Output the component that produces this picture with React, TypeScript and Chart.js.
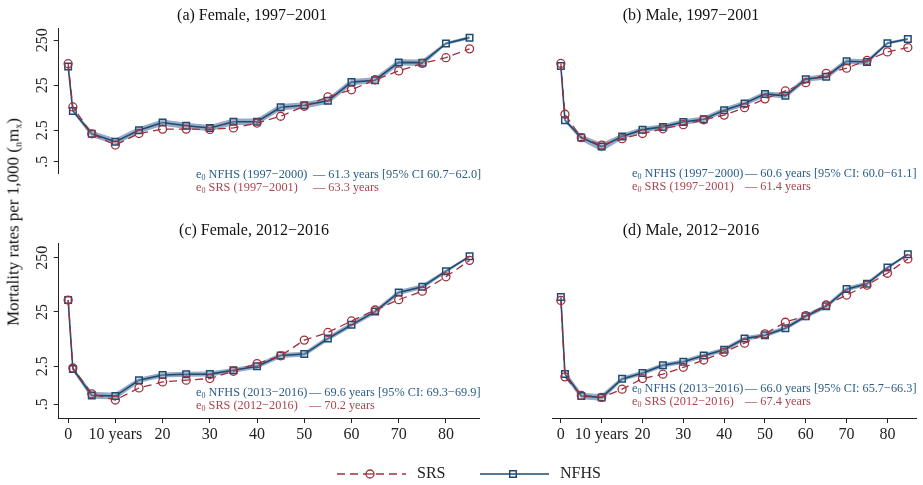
import React, { useEffect, useRef } from "react";
import { Chart, registerables } from "chart.js";

Chart.register(...registerables);

// ---------------- DATA ----------------
const AGES = [0, 1, 5, 10, 15, 20, 25, 30, 35, 40, 45, 50, 55, 60, 65, 70, 75, 80, 85];
const X_TICKS = [0, 10, 20, 30, 40, 50, 60, 70, 80];
const Y_TICKS = [0.5, 2.5, 25, 250];
const Y_TICK_LABELS = [".5", "2.5", "25", "250"];

// (a) Female, 1997-2001
const A_NFHS = [65, 6.7, 2.08, 1.39, 2.5, 3.7, 3.13, 2.8, 3.86, 3.86, 8.1, 8.97, 11.2, 29.2, 32.2, 80, 79, 211, 284];
const A_NFHS_LO = [60, 6.2, 1.77, 1.18, 2.13, 3.15, 2.66, 2.38, 3.28, 3.28, 6.9, 7.6, 9.5, 24.8, 27.4, 68, 67, 194, 261];
const A_NFHS_HI = [70, 7.2, 2.43, 1.63, 2.93, 4.33, 3.66, 3.28, 4.52, 4.52, 9.5, 10.5, 13.1, 34.2, 37.7, 93.6, 92.4, 228, 307];
const A_SRS = [75, 8.2, 2.08, 1.17, 2.11, 2.64, 2.64, 2.6, 2.8, 3.6, 5.1, 8.5, 13.7, 19.7, 33, 51.9, 75.9, 102, 160];

// (b) Male, 1997-2001
const B_NFHS = [66.8, 4.15, 1.71, 1.08, 1.81, 2.57, 2.96, 3.81, 4.39, 6.97, 9.75, 16, 14.5, 34, 38.6, 84.8, 82, 214, 264];
const B_NFHS_LO = [62, 3.8, 1.45, 0.84, 1.57, 2.24, 2.58, 3.31, 3.82, 6.06, 8.5, 13.9, 12.6, 29.6, 33.6, 73.8, 71.3, 199, 246];
const B_NFHS_HI = [71.5, 4.5, 1.97, 1.3, 2.08, 2.96, 3.4, 4.38, 5.05, 8.0, 11.2, 18.4, 16.7, 39.1, 44.4, 97.5, 94.3, 229, 282];
const B_SRS = [75.9, 5.65, 1.71, 1.17, 1.62, 2.11, 2.68, 3.31, 4.26, 5.41, 7.9, 12.4, 18.6, 28.4, 45.7, 59.7, 88.5, 137, 171];

// (c) Female, 2012-2016
const C_NFHS = [41.5, 2.23, 0.73, 0.71, 1.39, 1.73, 1.79, 1.8, 2.11, 2.5, 3.97, 4.2, 8.1, 14.5, 25.4, 57.3, 72.7, 141, 264];
const C_NFHS_LO = [39, 2.03, 0.63, 0.61, 1.25, 1.56, 1.61, 1.62, 1.9, 2.25, 3.57, 3.78, 7.3, 13.05, 22.9, 51.6, 65.4, 131, 250];
const C_NFHS_HI = [44, 2.45, 0.85, 0.82, 1.54, 1.92, 1.99, 2.0, 2.34, 2.78, 4.4, 4.66, 9.0, 16.1, 28.2, 63.6, 80.7, 152, 278];
const C_SRS = [41.5, 2.33, 0.78, 0.6, 1.0, 1.29, 1.39, 1.49, 2.03, 2.8, 3.9, 7.6, 10.5, 17.1, 27.2, 42.1, 60.5, 111, 223];

// (d) Male, 2012-2016
const D_NFHS = [47, 1.81, 0.71, 0.67, 1.47, 1.89, 2.61, 3.04, 3.97, 5.05, 8.1, 9.35, 12.6, 20.8, 31.8, 65.9, 82.5, 164, 288];
const D_NFHS_LO = [44.5, 1.57, 0.62, 0.58, 1.34, 1.72, 2.38, 2.77, 3.61, 4.6, 7.37, 8.5, 11.5, 18.9, 28.9, 60, 75, 152, 274];
const D_NFHS_HI = [49.5, 2.08, 0.82, 0.77, 1.62, 2.08, 2.87, 3.34, 4.37, 5.56, 8.9, 10.3, 13.9, 22.9, 35, 72.5, 90.8, 176, 302];
const D_SRS = [40.8, 1.6, 0.73, 0.67, 0.95, 1.49, 1.79, 2.4, 3.27, 4.57, 6.68, 9.9, 16.2, 21.4, 33.6, 51.2, 78, 129, 237];

const TITLES = ["(a) Female, 1997\u22122001", "(b) Male, 1997\u22122001", "(c) Female, 2012\u22122016", "(d) Male, 2012\u22122016"];
const NOTE_NFHS_LEFT = ["NFHS (1997\u22122000)", "NFHS (1997\u22122000)", "NFHS (2013\u22122016)", "NFHS (2013\u22122016)"];
const NOTE_NFHS_RIGHT = [
  "\u2014 61.3 years [95% CI 60.7\u221262.0]",
  "\u2014 60.6 years [95% CI: 60.0\u221261.1]",
  "\u2014 69.6 years [95% CI: 69.3\u221269.9]",
  "\u2014 66.0 years [95% CI: 65.7\u221266.3]",
];
const NOTE_SRS_LEFT = ["SRS (1997\u22122001)", "SRS (1997\u22122001)", "SRS (2012\u22122016)", "SRS (2012\u22122016)"];
const NOTE_SRS_RIGHT = ["\u2014 63.3 years", "\u2014 61.4 years", "\u2014 70.2 years", "\u2014 67.4 years"];
const LEGEND_LABELS = ["SRS", "NFHS"];

// ---------------- STYLE ----------------
const FONT = '"Liberation Serif", "Times New Roman", Times, serif';
const SRS_COLOR = "#a0303c";
const NFHS_COLOR = "#1d4b74";
const BAND_COLOR = "rgba(85, 120, 160, 0.62)";
const AXIS_COLOR = "#222";
const NOTE_NFHS_COLOR = "#2a5c88";
const NOTE_SRS_COLOR = "#a8454f";
const NOTE_SIZE = 12.3;

type PanelSpec = {
  nfhs: number[];
  lo: number[];
  hi: number[];
  srs: number[];
  showX: boolean;
  showY: boolean;
  left: number;
  top: number;
  width: number;
  height: number;
  padding: { top: number; bottom: number; left: number; right: number };
};

const PANELS: PanelSpec[] = [
  { nfhs: A_NFHS, lo: A_NFHS_LO, hi: A_NFHS_HI, srs: A_SRS, showX: false, showY: true, left: 0, top: 0, width: 490, height: 215, padding: { top: 28, bottom: 10, left: 0, right: 11 } },
  { nfhs: B_NFHS, lo: B_NFHS_LO, hi: B_NFHS_HI, srs: B_SRS, showX: false, showY: false, left: 435, top: 0, width: 488, height: 215, padding: { top: 28, bottom: 10, left: 59, right: 7 } },
  { nfhs: C_NFHS, lo: C_NFHS_LO, hi: C_NFHS_HI, srs: C_SRS, showX: true, showY: true, left: 0, top: 215, width: 490, height: 235, padding: { top: 28, bottom: 0, left: 0, right: 11 } },
  { nfhs: D_NFHS, lo: D_NFHS_LO, hi: D_NFHS_HI, srs: D_SRS, showX: true, showY: false, left: 435, top: 215, width: 488, height: 235, padding: { top: 28, bottom: 0, left: 59, right: 7 } },
];

const TITLE_POS = [
  { x: 252, y: 15 },
  { x: 691, y: 15 },
  { x: 254, y: 230 },
  { x: 691, y: 230 },
];
const NOTE_POS = [
  { x0: 196, x1: 313, y: 174 },
  { x0: 632, x1: 745, y: 173 },
  { x0: 196, x1: 309, y: 392 },
  { x0: 632, x1: 745, y: 388 },
];

const toPoints = (vals: number[]) => AGES.map((a, i) => ({ x: a, y: vals[i] }));

const yLabelPlugin = {
  id: "yLabels",
  afterDraw(chart: any) {
    const s = chart.scales.y;
    if (!s || !s.options.display) return;
    const ctx = chart.ctx;
    ctx.save();
    ctx.fillStyle = AXIS_COLOR;
    ctx.font = `16px ${FONT}`;
    ctx.textAlign = "center";
    ctx.textBaseline = "middle";
    Y_TICKS.forEach((v, i) => {
      const y = s.getPixelForValue(v);
      ctx.save();
      ctx.translate(s.right - 15.5, y);
      ctx.rotate(-Math.PI / 2);
      ctx.fillText(Y_TICK_LABELS[i], 0, 0);
      ctx.restore();
    });
    ctx.restore();
  },
};

function Panel({ p }: { p: PanelSpec }) {
  const ref = useRef<HTMLCanvasElement>(null);
  useEffect(() => {
    const chart = new Chart(ref.current as HTMLCanvasElement, {
      type: "line",
      data: {
        datasets: [
          {
            label: "SRS",
            data: toPoints(p.srs),
            borderColor: SRS_COLOR,
            borderWidth: 1.3,
            borderDash: [8, 5],
            pointStyle: "circle",
            pointRadius: 4,
            pointBorderWidth: 1.3,
            pointBorderColor: SRS_COLOR,
            pointBackgroundColor: "rgba(0,0,0,0)",
            fill: false,
            tension: 0,
          },
          {
            label: "NFHS",
            data: toPoints(p.nfhs),
            borderColor: NFHS_COLOR,
            borderWidth: 1.6,
            pointStyle: "rect",
            pointRadius: 4.6,
            pointBorderWidth: 1.5,
            pointBorderColor: NFHS_COLOR,
            pointBackgroundColor: "rgba(255,255,255,0.2)",
            fill: false,
            tension: 0,
          },
          {
            label: "lo",
            data: toPoints(p.lo),
            borderWidth: 0,
            borderColor: "rgba(0,0,0,0)",
            pointRadius: 0,
            fill: false,
            tension: 0,
          },
          {
            label: "hi",
            data: toPoints(p.hi),
            borderWidth: 0,
            borderColor: "rgba(0,0,0,0)",
            backgroundColor: BAND_COLOR,
            pointRadius: 0,
            fill: "-1",
            tension: 0,
          },
        ],
      } as any,
      options: {
        responsive: false,
        maintainAspectRatio: false,
        animation: false,
        events: [],
        layout: { padding: p.padding },
        plugins: {
          legend: { display: false },
          tooltip: { enabled: false },
          title: { display: false },
        },
        scales: {
          x: {
            type: "linear",
            min: -2,
            max: 87,
            display: p.showX,
            afterBuildTicks: (s: any) => {
              s.ticks = X_TICKS.map((v) => ({ value: v }));
            },
            afterFit: (s: any) => {
              s.height = 32;
            },
            ticks: {
              callback: (v: any) => (v === 10 ? "10 years" : String(v)),
              font: { family: FONT, size: 16 },
              color: AXIS_COLOR,
              maxRotation: 0,
              minRotation: 0,
              autoSkip: false,
              padding: 2,
            },
            grid: { display: true, drawOnChartArea: false, drawTicks: true, tickLength: 5, color: AXIS_COLOR, lineWidth: 1 },
            border: { display: true, color: AXIS_COLOR, width: 1 },
          },
          y: {
            type: "logarithmic",
            min: 0.28,
            max: 465,
            display: p.showY,
            afterBuildTicks: (s: any) => {
              s.ticks = Y_TICKS.map((v) => ({ value: v }));
            },
            afterFit: (s: any) => {
              s.width = 58.7;
            },
            ticks: { display: false },
            grid: { display: true, drawOnChartArea: false, drawTicks: true, tickLength: 5, color: AXIS_COLOR, lineWidth: 1 },
            border: { display: true, color: AXIS_COLOR, width: 1 },
          },
        },
      } as any,
      plugins: [yLabelPlugin],
    });
    return () => chart.destroy();
  }, [p]);
  return (
    <canvas
      ref={ref}
      width={p.width}
      height={p.height}
      style={{ position: "absolute", left: p.left, top: p.top, width: p.width, height: p.height }}
    />
  );
}

const legendPlugin = {
  id: "legendDraw",
  afterDraw(chart: any) {
    const ctx = chart.ctx;
    const y = 19;
    const items = [
      { x1: 37, x2: 106, mx: 70, tx: 417 - 300, ds: chart.data.datasets[0], marker: "circle" },
      { x1: 180, x2: 249, mx: 213, tx: 560 - 300, ds: chart.data.datasets[1], marker: "rect" },
    ];
    items.forEach((it, i) => {
      ctx.save();
      ctx.strokeStyle = it.ds.borderColor;
      ctx.lineWidth = it.ds.borderWidth;
      ctx.setLineDash(it.ds.borderDash || []);
      ctx.beginPath();
      ctx.moveTo(it.x1, y);
      ctx.lineTo(it.x2, y);
      ctx.stroke();
      ctx.setLineDash([]);
      ctx.lineWidth = it.ds.pointBorderWidth;
      ctx.fillStyle = "#fff";
      ctx.beginPath();
      if (it.marker === "circle") {
        ctx.arc(it.mx, y, it.ds.pointRadius, 0, Math.PI * 2);
      } else {
        const h = it.ds.pointRadius * Math.SQRT1_2;
        ctx.rect(it.mx - h, y - h, 2 * h, 2 * h);
      }
      ctx.fill();
      ctx.stroke();
      if (it.marker === "circle") {
        ctx.beginPath();
        ctx.moveTo(it.mx - it.ds.pointRadius, y);
        ctx.lineTo(it.mx + it.ds.pointRadius, y);
        ctx.stroke();
      } else {
        ctx.beginPath();
        ctx.moveTo(it.mx - 3, y);
        ctx.lineTo(it.mx + 3, y);
        ctx.stroke();
      }
      ctx.fillStyle = "#222";
      ctx.font = `16px ${FONT}`;
      ctx.textAlign = "left";
      ctx.textBaseline = "middle";
      ctx.fillText(LEGEND_LABELS[i], it.tx, y);
      ctx.restore();
    });
  },
};

function Legend() {
  const ref = useRef<HTMLCanvasElement>(null);
  useEffect(() => {
    const chart = new Chart(ref.current as HTMLCanvasElement, {
      type: "line",
      data: {
        datasets: [
          { label: LEGEND_LABELS[0], data: [], borderColor: SRS_COLOR, borderWidth: 1.3, borderDash: [8, 5], pointRadius: 4, pointBorderWidth: 1.3 },
          { label: LEGEND_LABELS[1], data: [], borderColor: NFHS_COLOR, borderWidth: 1.5, pointRadius: 4.6, pointBorderWidth: 1.5 },
        ],
      } as any,
      options: {
        responsive: false,
        animation: false,
        events: [],
        plugins: { legend: { display: false }, tooltip: { enabled: false } },
        scales: { x: { display: false }, y: { display: false } },
      } as any,
      plugins: [legendPlugin],
    });
    return () => chart.destroy();
  }, []);
  return (
    <canvas ref={ref} width={330} height={30} style={{ position: "absolute", left: 300, top: 455, width: 330, height: 30 }} />
  );
}

const noteStyle = (x: number, y: number, color: string): React.CSSProperties => ({
  position: "absolute",
  left: x,
  top: y,
  fontSize: NOTE_SIZE,
  lineHeight: "16px",
  color,
  whiteSpace: "nowrap",
});

export default function App() {
  return (
    <div style={{ position: "absolute", left: 0, top: 0, width: 923, height: 485, background: "#fff", overflow: "hidden", fontFamily: FONT }}>
      {PANELS.map((p, i) => (
        <Panel key={i} p={p} />
      ))}
      {TITLES.map((t, i) => (
        <div
          key={"t" + i}
          style={{
            position: "absolute",
            left: TITLE_POS[i].x,
            top: TITLE_POS[i].y,
            transform: "translate(-50%, -50%)",
            whiteSpace: "nowrap",
            fontSize: 16,
            color: "#111",
            lineHeight: "18px",
          }}
        >
          {t}
        </div>
      ))}
      {NOTE_POS.map((n, i) => (
        <React.Fragment key={"n" + i}>
          <div style={noteStyle(n.x0, n.y - 8, NOTE_NFHS_COLOR)}>
            e<sub style={{ fontSize: 8, verticalAlign: "-2px" }}>0</sub> {NOTE_NFHS_LEFT[i]}
          </div>
          <div style={noteStyle(n.x1, n.y - 8, NOTE_NFHS_COLOR)}>{NOTE_NFHS_RIGHT[i]}</div>
          <div style={noteStyle(n.x0, n.y + 5, NOTE_SRS_COLOR)}>
            e<sub style={{ fontSize: 8, verticalAlign: "-2px" }}>0</sub> {NOTE_SRS_LEFT[i]}
          </div>
          <div style={noteStyle(n.x1, n.y + 5, NOTE_SRS_COLOR)}>{NOTE_SRS_RIGHT[i]}</div>
        </React.Fragment>
      ))}
      <div
        style={{
          position: "absolute",
          left: 16,
          top: 222,
          transform: "translate(-50%, -50%) rotate(-90deg)",
          whiteSpace: "nowrap",
          fontSize: 17,
          lineHeight: "20px",
          color: "#111",
        }}
      >
        Mortality rates per 1,000 (<sub style={{ fontSize: 10, verticalAlign: "-3px" }}>n</sub>m<sub style={{ fontSize: 10, verticalAlign: "-3px" }}>x</sub>)
      </div>
      <Legend />
    </div>
  );
}
